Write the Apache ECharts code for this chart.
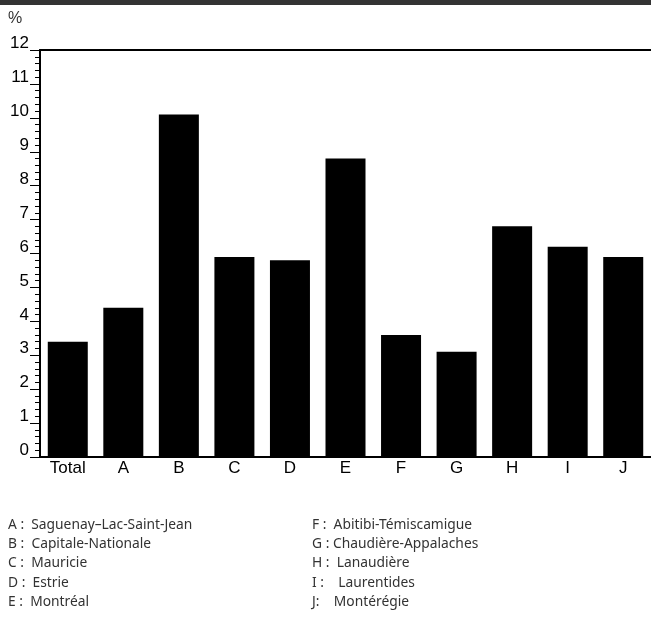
<!DOCTYPE html>
<html><head><meta charset="utf-8">
<script src="https://cdn.jsdelivr.net/npm/echarts@6/dist/echarts.min.js"></script>
<style>html,body{margin:0;padding:0;background:#fff}#c{width:651px;height:628px}</style>
</head><body><div id="c"></div>
<script>
const categories = ['Total','A','B','C','D','E','F','G','H','I','J'];
const values = [3.4, 4.4, 10.1, 5.9, 5.8, 8.8, 3.6, 3.1, 6.8, 6.2, 5.9];
const yTicks = [0,1,2,3,4,5,6,7,8,9,10,11,12];
const legendLeft = ['A :  Saguenay–Lac-Saint-Jean','B :  Capitale-Nationale','C :  Mauricie','D :  Estrie','E :  Montréal'];
const legendRight = ['F :  Abitibi-Témiscamigue','G : Chaudière-Appalaches','H :  Lanaudière','I :    Laurentides','J:    Montérégie'];

const chart = echarts.init(document.getElementById('c'), null, {renderer:'canvas'});
const graphics = [
  {type:'rect', shape:{x:0,y:0,width:651,height:5}, style:{fill:'#333'}},
  {type:'text', left:8, top:11, style:{text:'%', font:'16px "Liberation Sans"', fill:'#333'}}
];
legendLeft.forEach((t,i)=>graphics.push({type:'text', left:8, top:518+i*19.2, style:{text:t, font:'13.8px "Noto Sans"', fill:'#333'}}));
legendRight.forEach((t,i)=>graphics.push({type:'text', left:312, top:518+i*19.2, style:{text:t, font:'13.8px "Noto Sans"', fill:'#333'}}));

chart.setOption({
  animation:false,
  grid:{left:40, right:0, top:50, bottom:171},
  xAxis:[{
    type:'category', data:categories, position:'bottom',
    axisLine:{lineStyle:{color:'#000', width:2}},
    axisTick:{show:false},
    axisLabel:{color:'#000', fontSize:17, fontFamily:'Liberation Sans', margin:3}
  },{
    type:'category', data:categories, position:'top',
    axisLine:{lineStyle:{color:'#000', width:2}},
    axisTick:{show:false}, axisLabel:{show:false}
  }],
  yAxis:{
    type:'value', min:0, max:12, interval:1,
    axisLine:{show:true, lineStyle:{color:'#000', width:2}},
    axisTick:{show:true, length:10, lineStyle:{color:'#000', width:1}},
    minorTick:{show:true, splitNumber:5, length:5, lineStyle:{color:'#000', width:1}},
    splitLine:{show:false},
    axisLabel:{color:'#000', fontSize:17, fontFamily:'Liberation Sans', margin:11, verticalAlign:'bottom', lineHeight:13,
      formatter:v=>yTicks.includes(v)?String(v):''}
  },
  series:[{type:'bar', data:values, xAxisIndex:0, barWidth:40, itemStyle:{color:'#000'}}],
  graphic:graphics
});
</script></body></html>
